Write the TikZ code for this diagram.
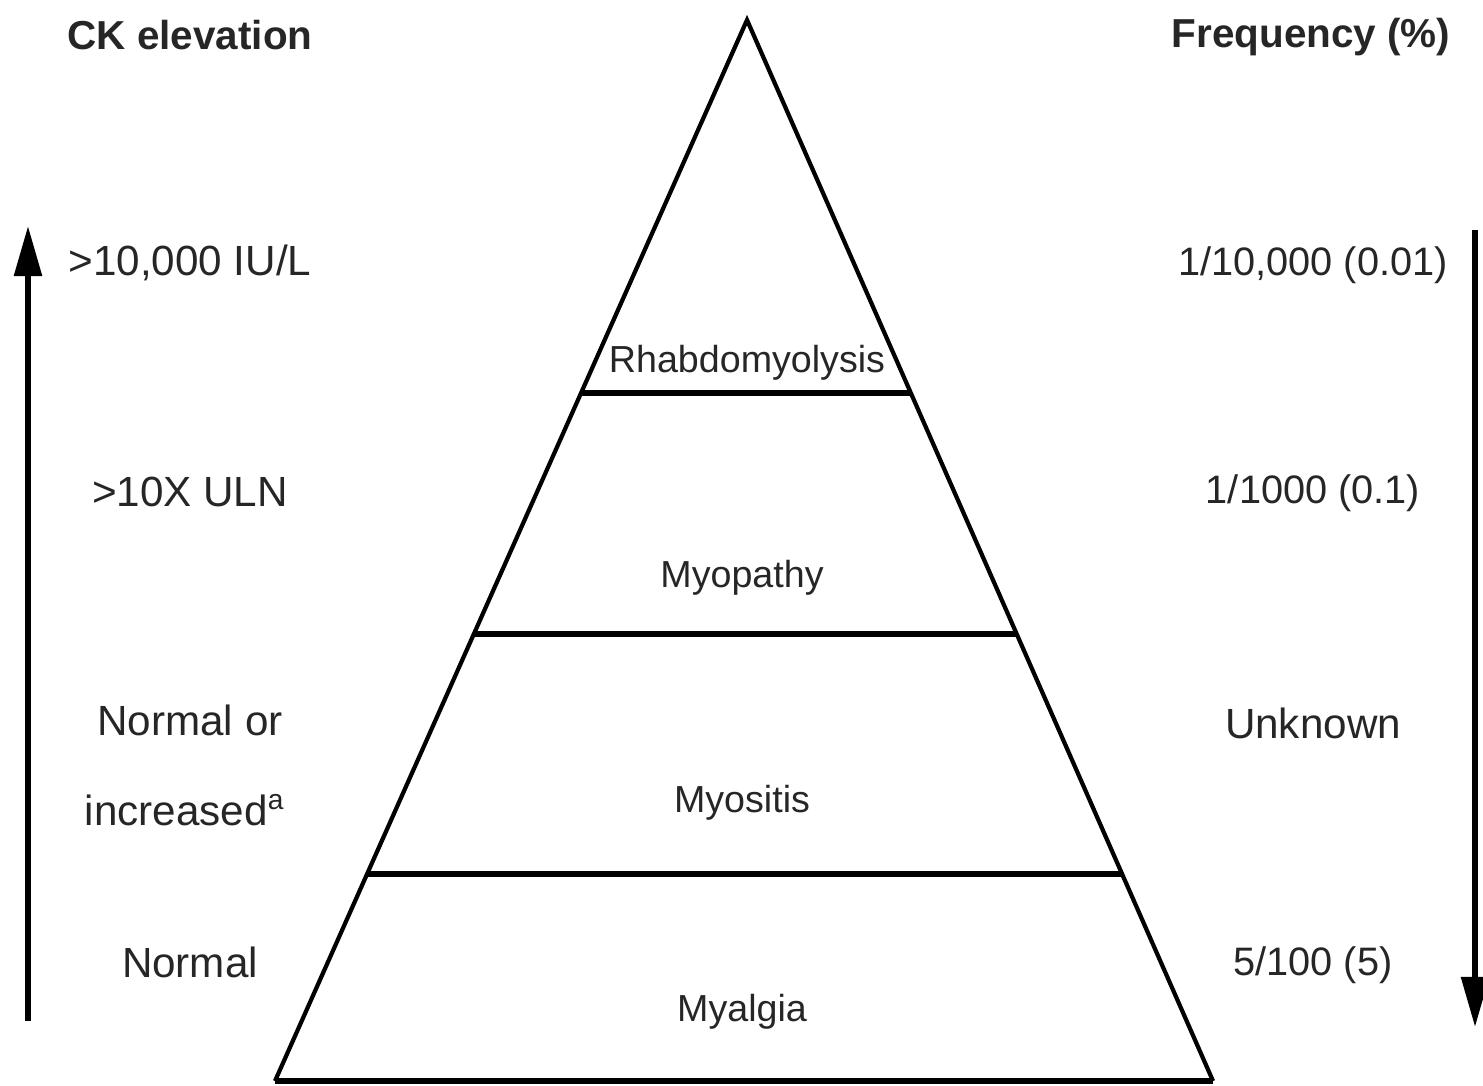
\documentclass[tikz,border=0pt]{standalone}
\usepackage{fontspec}
\setmainfont{Liberation Sans}
\usetikzlibrary{arrows.meta,calc}

\begin{document}
\begin{tikzpicture}[x=0.01cm,y=-0.01cm,every node/.style={font=\fontsize{12}{14}\selectfont,text=black!85}]
  \useasboundingbox (0,0) rectangle (1483,1086);
  % pyramid
  \coordinate (apex) at (747,20);
  \coordinate (bl) at (275,1081);
  \coordinate (br) at (1213,1081);
  \draw[line width=1.2pt,line join=miter] (bl) -- (apex) -- (br);
  \draw[line width=1.9pt] (bl) -- (br);
  \foreach \yy in {393,634,874}
    \draw[line width=1.7pt] ($(apex)!{(\yy-20)/1061}!(bl)$) -- ($(apex)!{(\yy-20)/1061}!(br)$);
  \node[font=\fontsize{10.7}{13}\selectfont] (rhabdo) at (747,363) {Rhabdomyolysis};
  \node[font=\fontsize{10.7}{13}\selectfont] (myopathy) at (742,578) {Myopathy};
  \node[font=\fontsize{10.7}{13}\selectfont] (myositis) at (742,803) {Myositis};
  \node[font=\fontsize{10.7}{13}\selectfont] (myalgia) at (742,1012) {Myalgia};
  % left column
  \node[font=\bfseries\fontsize{11.5}{14}\selectfont] (cklabel) at (190,35) {CK elevation};
  \node (ck1) at (190,263) {>10,000 IU/L};
  \node (ck2) at (190,492) {>10X ULN};
  \node (ck3) at (190,720) {Normal or};
  \node (ck4) at (185,810) {increased\textsuperscript{a}};
  \node (ck5) at (190,962) {Normal};
  \coordinate (upS) at (28,1021);
  \coordinate (upE) at (28,226);
  \draw[-{Triangle[length=0.5cm,width=0.27cm]},line width=1.6pt] (upS) -- (upE);
  % right column
  \node[font=\bfseries\fontsize{11.5}{14}\selectfont] (freqlabel) at (1311,37) {Frequency (\%)};
  \node[font=\fontsize{11.3}{14}\selectfont] (fq1) at (1313,265) {1/10,000 (0.01)};
  \node[font=\fontsize{11.3}{14}\selectfont] (fq2) at (1313,493) {1/1000 (0.1)};
  \node (fq3) at (1313,723) {Unknown};
  \node[font=\fontsize{11.3}{14}\selectfont] (fq4) at (1313,965) {5/100 (5)};
  \coordinate (dnS) at (1475,230);
  \coordinate (dnE) at (1475,1027);
  \draw[-{Triangle[length=0.5cm,width=0.27cm]},line width=1.6pt] (dnS) -- (dnE);
\end{tikzpicture}
\end{document}
